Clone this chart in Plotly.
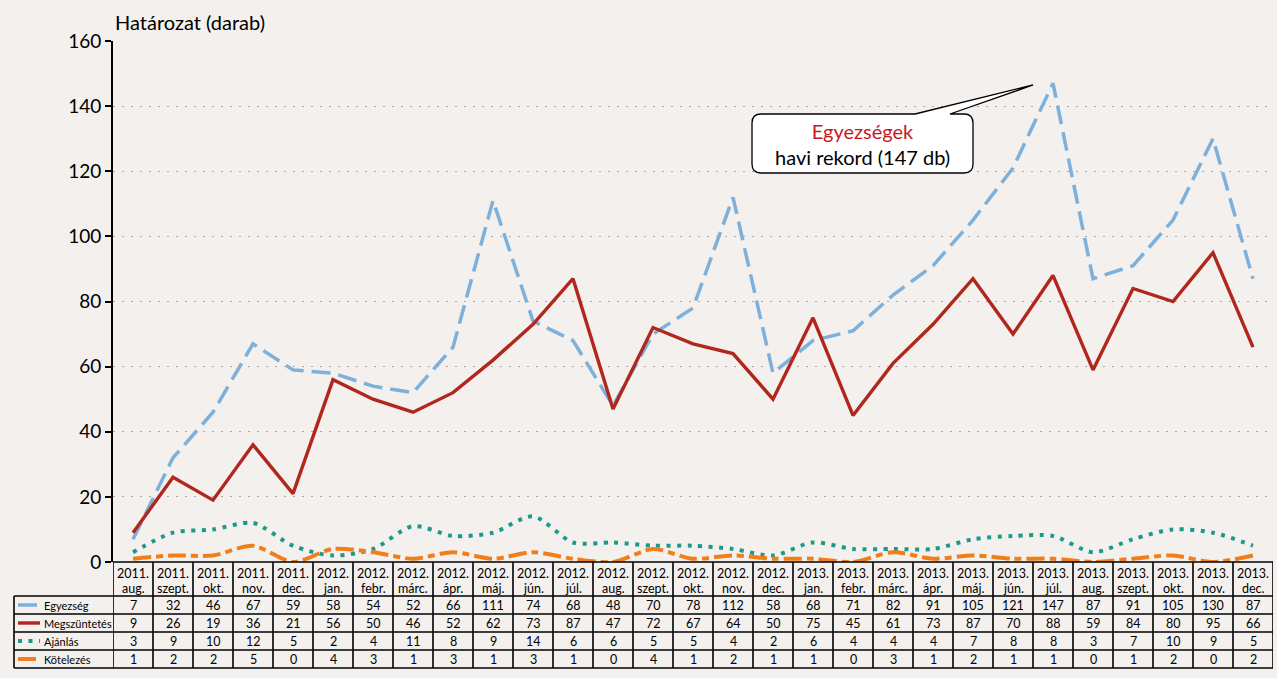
import plotly.graph_objects as go

# ---------------- data ----------------
years = ["2011."] * 5 + ["2012."] * 12 + ["2013."] * 12
months = ["aug.", "szept.", "okt.", "nov.", "dec.",
          "jan.", "febr.", "márc.", "ápr.", "máj.", "jún.", "júl.", "aug.", "szept.", "okt.", "nov.", "dec.",
          "jan.", "febr.", "márc.", "ápr.", "máj.", "jún.", "júl.", "aug.", "szept.", "okt.", "nov.", "dec."]
egyezseg = [7, 32, 46, 67, 59, 58, 54, 52, 66, 111, 74, 68, 48, 70, 78, 112, 58, 68, 71, 82, 91, 105, 121, 147, 87, 91, 105, 130, 87]
megszuntetes = [9, 26, 19, 36, 21, 56, 50, 46, 52, 62, 73, 87, 47, 72, 67, 64, 50, 75, 45, 61, 73, 87, 70, 88, 59, 84, 80, 95, 66]
ajanlas = [3, 9, 10, 12, 5, 2, 4, 11, 8, 9, 14, 6, 6, 5, 5, 4, 2, 6, 4, 4, 4, 7, 8, 8, 3, 7, 10, 9, 5]
kotelezes = [1, 2, 2, 5, 0, 4, 3, 1, 3, 1, 3, 1, 0, 4, 1, 2, 1, 1, 0, 3, 1, 2, 1, 1, 0, 1, 2, 0, 2]
series_names = ["Egyezség", "Megszüntetés", "Ajánlás", "Kötelezés"]
series_values = [egyezseg, megszuntetes, ajanlas, kotelezes]
y_ticks = [0, 20, 40, 60, 80, 100, 120, 140, 160]

# ---------------- styles ----------------
W, H = 1277, 678
FONT = "Lato"
BG = "#F3F0EE"
colors = ["#7DB0DA", "#B1261D", "#1B9A8B", "#F07F1A"]
dashes = ["19px,8px", "solid", "4px,6.5px", "18px,5px,7px,5px"]
widths = [3.5, 3.4, 4, 4]
shapes_line = ["linear", "linear", "spline", "spline"]


def px(x):
    return x / W


def py(y):
    return 1 - y / H


n = len(months)
xi = list(range(n))

fig = go.Figure()
for name, vals, c, d, w, s in zip(series_names, series_values, colors, dashes, widths, shapes_line):
    fig.add_trace(go.Scatter(x=xi, y=vals, mode="lines", name=name,
                             line=dict(color=c, width=w, dash=d, shape=s, smoothing=0.8),
                             cliponaxis=False, showlegend=False, hoverinfo="skip"))

shapes = []
annotations = []

# table geometry (pixel rows)
row_edges = [562, 596, 614, 632, 650, 668]
BL = dict(color="black", width=1.6)

# horizontal lines
shapes.append(dict(type="line", xref="x", yref="paper", x0=-0.5, x1=n - 0.5,
                   y0=py(row_edges[0]), y1=py(row_edges[0]), line=BL))
for ye in row_edges[1:]:
    shapes.append(dict(type="line", xref="paper", yref="paper", x0=px(14), x1=px(1273),
                       y0=py(ye), y1=py(ye), line=BL))
# vertical lines
shapes.append(dict(type="line", xref="paper", yref="paper", x0=px(14), x1=px(14),
                   y0=py(596), y1=py(668), line=BL))
for i in range(n + 1):
    shapes.append(dict(type="line", xref="x", yref="paper", x0=i - 0.5, x1=i - 0.5,
                       y0=py(562), y1=py(668), line=BL))

# header text
for i in range(n):
    annotations.append(dict(x=i, y=py(573.5), xref="x", yref="paper",
                            text=years[i], showarrow=False,
                            font=dict(family=FONT, size=12.5, color="black"),
                            xanchor="center", yanchor="middle"))
    annotations.append(dict(x=i, y=py(588.5), xref="x", yref="paper",
                            text=months[i], showarrow=False,
                            font=dict(family=FONT, size=12.5, color="black"),
                            xanchor="center", yanchor="middle"))
# cells
for r, (name, vals, c, d, w) in enumerate(zip(series_names, series_values, colors, dashes, widths)):
    ymid = (row_edges[r + 1] + row_edges[r + 2]) / 2
    for i in range(n):
        annotations.append(dict(x=i, y=py(ymid), xref="x", yref="paper",
                                text=str(vals[i]), showarrow=False,
                                font=dict(family=FONT, size=12.5, color="black"),
                                xanchor="center", yanchor="middle"))
    # legend label
    annotations.append(dict(x=px(42), y=py(ymid), xref="paper", yref="paper",
                            text=name, showarrow=False,
                            font=dict(family=FONT, size=11, color="black"),
                            xanchor="left", yanchor="middle"))
    shapes.append(dict(type="line", xref="paper", yref="paper", x0=px(18), x1=px(40),
                       y0=py(ymid), y1=py(ymid),
                       line=dict(color=c, width=w, dash=d)))

# y-axis title
annotations.append(dict(x=px(113), y=py(22), xref="paper", yref="paper",
                        text="Határozat (darab)", showarrow=False,
                        font=dict(family=FONT, size=20, color="black"),
                        xanchor="left", yanchor="middle"))

# callout box with pointer
L, R, T, B, rad = 752, 973, 114, 173, 9
tipx, tipy = 1033, 85
b1, b2 = 915, 950


def P(x, y):
    return f"{px(x):.5f},{py(y):.5f}"


path = (f"M {P(L + rad, T)} L {P(b1, T)} L {P(tipx, tipy)} L {P(b2, T)} L {P(R - rad, T)} "
        f"Q {P(R, T)} {P(R, T + rad)} L {P(R, B - rad)} Q {P(R, B)} {P(R - rad, B)} "
        f"L {P(L + rad, B)} Q {P(L, B)} {P(L, B - rad)} L {P(L, T + rad)} Q {P(L, T)} {P(L + rad, T)} Z")
shapes.append(dict(type="path", xref="paper", yref="paper", path=path,
                   fillcolor="white", line=dict(color="black", width=1.3)))
annotations.append(dict(x=px((L + R) / 2), y=py(144), xref="paper", yref="paper",
                        text="<span style='color:#C8191E'>Egyezségek</span><br>havi rekord (147 db)",
                        showarrow=False, font=dict(family=FONT, size=20, color="black"),
                        xanchor="center", yanchor="middle"))

fig.update_layout(
    width=W, height=H,
    margin=dict(l=0, r=0, t=0, b=0, autoexpand=False),
    paper_bgcolor=BG, plot_bgcolor=BG,
    shapes=shapes, annotations=annotations,
    xaxis=dict(domain=[px(113), px(1273)], range=[-0.5, n - 0.5], visible=False),
    yaxis=dict(domain=[py(562), py(41)], range=[0, 160], tickvals=y_ticks,
               automargin=False,
               showgrid=True, gridcolor="#A8A8A8", griddash="2px,7px", gridwidth=1.2,
               showline=True, linecolor="black", linewidth=2,
               ticks="outside", ticklen=6, tickwidth=2, tickcolor="black",
               tickfont=dict(family=FONT, size=19, color="black"), zeroline=False),
)

fig.write_html("out.html", config={"displayModeBar": False},
               post_script="document.body.style.margin='0';document.body.style.background='#F3F0EE';")
